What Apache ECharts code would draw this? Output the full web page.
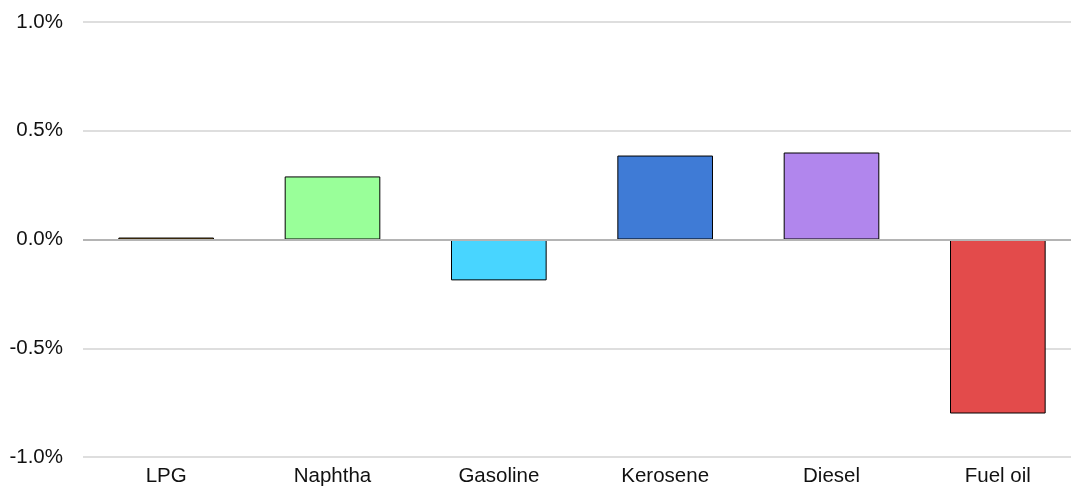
<!DOCTYPE html>
<html><head><meta charset="utf-8">
<script src="https://cdn.jsdelivr.net/npm/echarts@6/dist/echarts.min.js"></script>
<style>html,body{margin:0;padding:0;background:#fff}#c{width:1071px;height:491px}</style>
</head><body><div id="c"></div>
<script>
const categories = ['LPG', 'Naphtha', 'Gasoline', 'Kerosene', 'Diesel', 'Fuel oil'];
const values = [0.009, 0.29, -0.188, 0.386, 0.40, -0.80];
const colors = ['#F5A623', '#99FF99', '#48D5FF', '#3F7BD6', '#B186ED', '#E34B4B'];
const yTicks = { min: -1.0, max: 1.0, interval: 0.5 };

const chart = echarts.init(document.getElementById('c'));
chart.setOption({
  animation: false,
  textStyle: { fontFamily: 'Liberation Sans, Arial, sans-serif' },
  grid: { left: 83, top: 22, width: 998, bottom: 34, outerBoundsMode: 'none', containLabel: false },
  xAxis: {
    type: 'category', data: categories,
    axisLine: { show: false }, axisTick: { show: false },
    axisLabel: { color: '#111', fontSize: 20.5, margin: 9 }
  },
  yAxis: {
    type: 'value', min: yTicks.min, max: yTicks.max, interval: yTicks.interval,
    axisLine: { show: false }, axisTick: { show: false },
    splitLine: { lineStyle: { color: '#dedede', width: 2 } },
    axisLabel: { color: '#111', fontSize: 20.5, margin: 20,
      formatter: v => v.toFixed(1) + '%' }
  },
  series: [{
    type: 'bar',
    barWidth: '57.5%',
    data: values.map((v, i) => ({ value: v, itemStyle: { color: colors[i] } })),
    itemStyle: { borderColor: '#000', borderWidth: 1 },
    markLine: {
      silent: true, symbol: 'none', label: { show: false },
      lineStyle: { color: '#b4b4b4', width: 2, type: 'solid' },
      data: [{ yAxis: 0 }]
    },
    z: 3
  }]
});
</script></body></html>
